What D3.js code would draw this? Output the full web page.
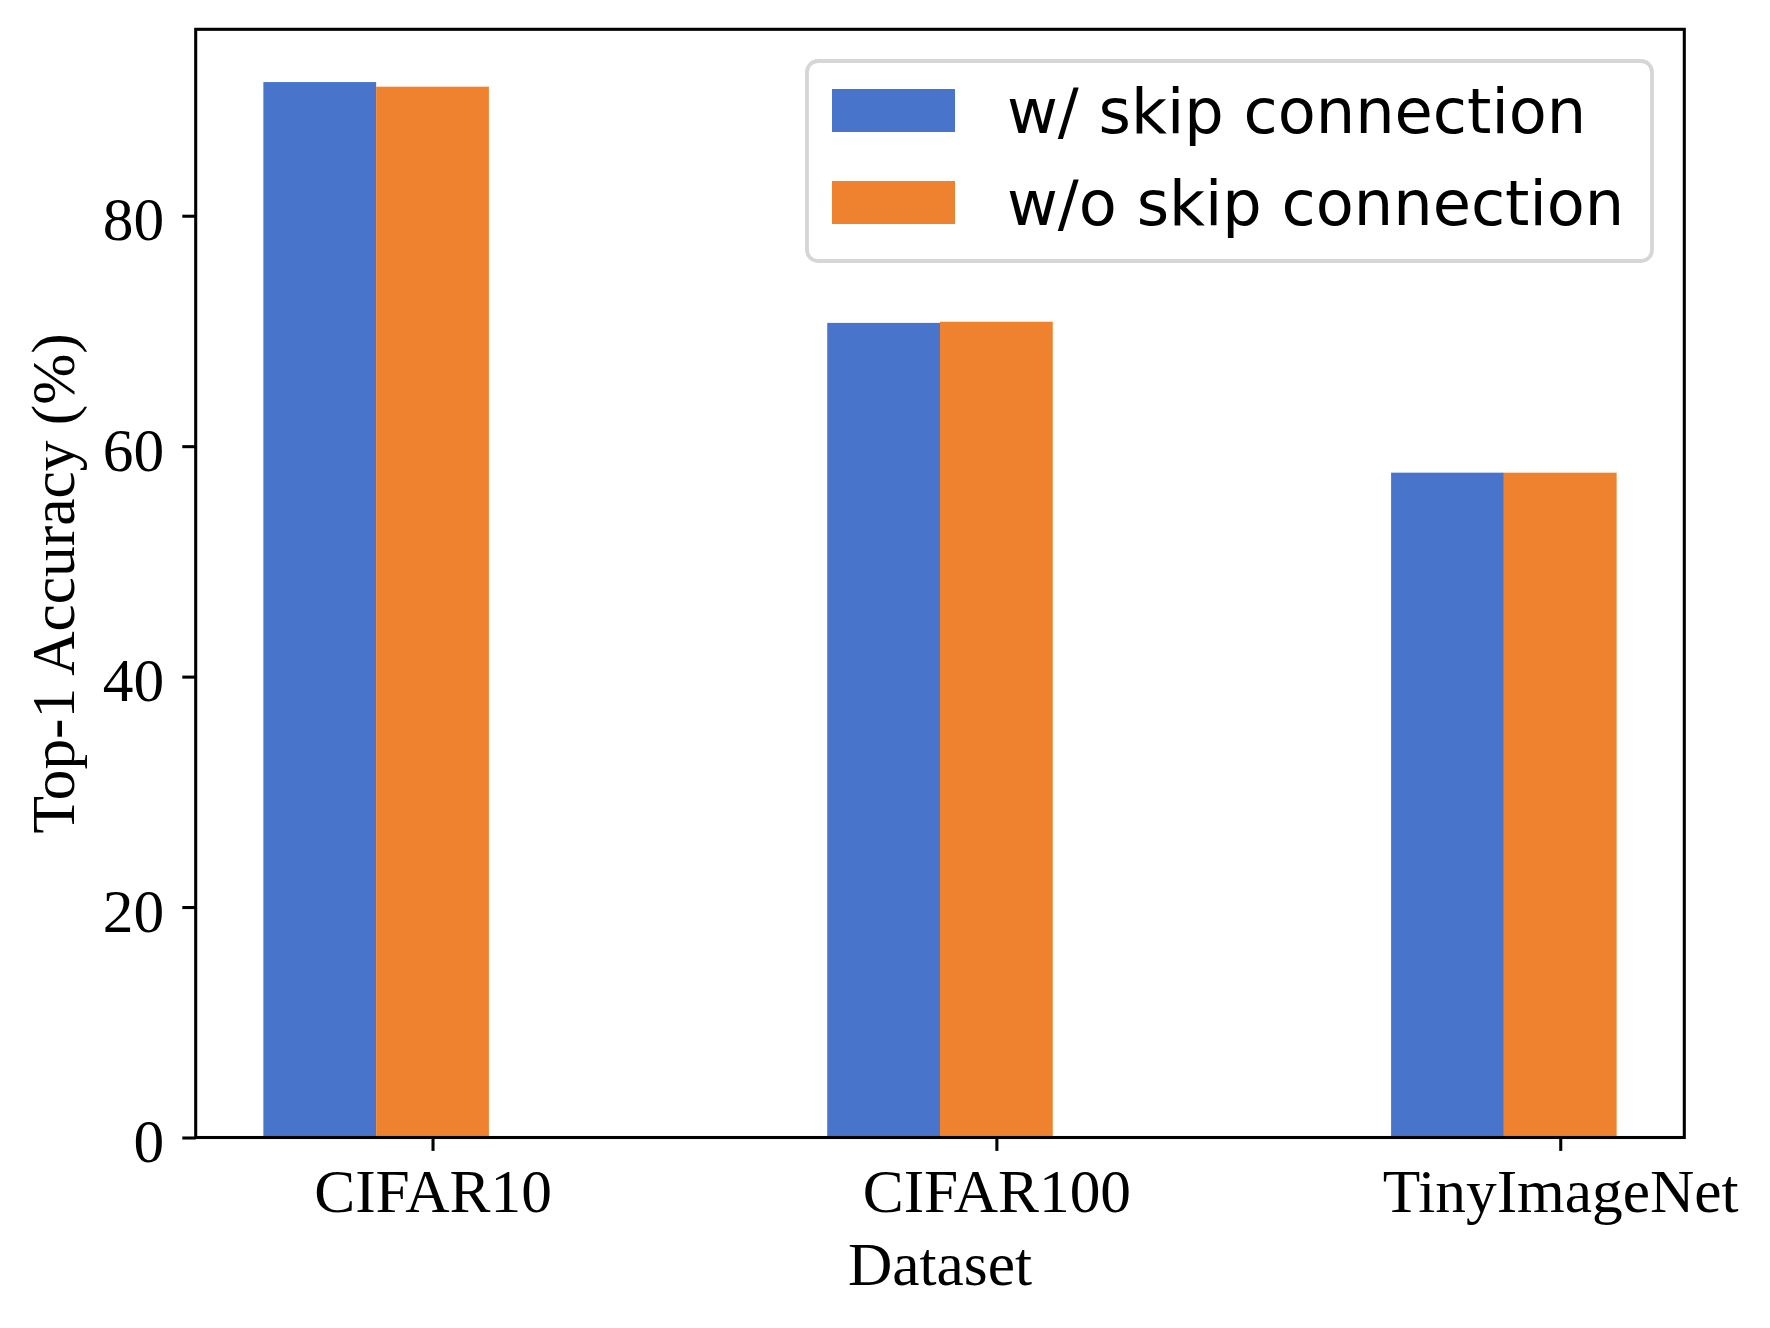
<!DOCTYPE html>
<html>
<head>
<meta charset="utf-8">
<script src="https://cdn.jsdelivr.net/npm/d3@7"></script>
<style>
  html, body { margin: 0; padding: 0; background: #ffffff; }
  svg { display: block; }
</style>
</head>
<body>
<svg id="chart" width="1770" height="1328"></svg>
<script>
// ---- data ----
const categories = ["CIFAR10", "CIFAR100", "TinyImageNet"];
const seriesNames = ["w/ skip connection", "w/o skip connection"];
const withSkip = [91.6, 70.7, 57.7];
const withoutSkip = [91.2, 70.8, 57.7];
const yTicks = [0, 20, 40, 60, 80];
const xLabel = "Dataset";
const yLabel = "Top-1 Accuracy (%)";

// ---- layout ----
const W = 1770, H = 1328;
const L = 195.7, R = 1684.3, T = 29.3, B = 1137.5;
const colors = ["#4874CB", "#EE822F"];
const lw = 3.07;
const fs = 61.4;
const legFs = 62.2;
const serif = "'Liberation Serif', 'Times New Roman', serif";
const sans = "'DejaVu Sans', sans-serif";
const barW = 0.2;
const offsets = [-0.2, 0];

const svg = d3.select("#chart");

const allVals = withSkip.concat(withoutSkip);
const yMax = d3.max(allVals) * 1.05;
const x = d3.scaleLinear().domain([-0.42, 2.22]).range([L, R]);
const y = d3.scaleLinear().domain([0, yMax]).range([B, T]);

const series = [withSkip, withoutSkip];

// bars
series.forEach((vals, s) => {
  svg.append("g").selectAll("rect")
    .data(vals)
    .join("rect")
    .attr("x", (d, i) => x(i + offsets[s] - barW / 2))
    .attr("width", (d, i) => x(i + offsets[s] + barW / 2) - x(i + offsets[s] - barW / 2))
    .attr("y", d => y(d))
    .attr("height", d => y(0) - y(d))
    .attr("fill", colors[s]);
});

// axes
const yAxis = d3.axisLeft(y).tickValues(yTicks).tickSize(13.4).tickSizeOuter(0).tickFormat(d3.format("d"));
const gy = svg.append("g").attr("transform", `translate(${L},0)`).call(yAxis);
gy.select(".domain").remove();
gy.selectAll(".tick line").attr("stroke", "#000").attr("stroke-width", lw);
gy.selectAll(".tick text").attr("font-family", serif).attr("font-size", fs).attr("fill", "#000").attr("dy", "0.39em").attr("x", -31.5);

const xAxis = d3.axisBottom(x).tickValues(categories.map((c, i) => i)).tickFormat(i => categories[i]).tickSize(13.4).tickSizeOuter(0);
const gx = svg.append("g").attr("transform", `translate(0,${B})`).call(xAxis);
gx.select(".domain").remove();
gx.selectAll(".tick line").attr("stroke", "#000").attr("stroke-width", lw);
gx.selectAll(".tick text").attr("font-family", serif).attr("font-size", fs).attr("fill", "#000").attr("dy", null).attr("y", 1212 - B);

// frame (spines)
svg.append("rect")
  .attr("x", L).attr("y", T).attr("width", R - L).attr("height", B - T)
  .attr("fill", "none").attr("stroke", "#000").attr("stroke-width", lw);

// axis labels
svg.append("text").attr("x", (L + R) / 2).attr("y", 1285)
  .attr("text-anchor", "middle").attr("font-family", serif).attr("font-size", fs)
  .text(xLabel);
svg.append("text").attr("transform", `translate(74,${(T + B) / 2}) rotate(-90)`)
  .attr("text-anchor", "middle").attr("font-family", serif).attr("font-size", fs)
  .text(yLabel);

// legend
const lg = svg.append("g");
lg.append("rect").attr("x", 807).attr("y", 61).attr("width", 1652 - 807).attr("height", 261 - 61)
  .attr("rx", 11).attr("ry", 11)
  .attr("fill", "#fff").attr("fill-opacity", 0.8)
  .attr("stroke", "#d6d6d6").attr("stroke-width", 3.8);
const rowTop = [89, 181];
seriesNames.forEach((name, s) => {
  lg.append("rect").attr("x", 832).attr("y", rowTop[s]).attr("width", 123).attr("height", 43).attr("fill", colors[s]);
  lg.append("text").attr("x", 1007).attr("y", rowTop[s] + 44)
    .attr("font-family", sans).attr("font-size", legFs).attr("fill", "#000").text(name);
});
</script>
</body>
</html>
